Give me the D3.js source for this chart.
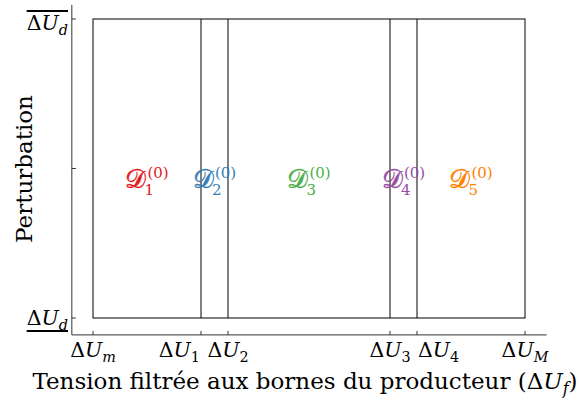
<!DOCTYPE html>
<html>
<head>
<meta charset="utf-8">
<script src="https://cdn.jsdelivr.net/npm/d3@7"></script>
<style>
  body { margin: 0; background: #fff; }
  text { font-family: "DejaVu Serif", "Liberation Serif", serif; }
</style>
</head>
<body>
<svg width="586" height="403"></svg>
<script>
// x positions of the boundaries (normalised, ΔU_m = 0, ΔU_M = 1)
var boundaries = [0, 0.25, 0.3125, 0.6875, 0.75, 1];
var xTickLabels = [["Δ", "U", "m"], ["Δ", "U", "1"], ["Δ", "U", "2"], ["Δ", "U", "3"], ["Δ", "U", "4"], ["Δ", "U", "M"]];
var xTickAnchors = ["middle", "end", "middle", "middle", "start", "middle"];
var yTicks = [-1, 0, 1];
var regionNames = ["1", "2", "3", "4", "5"];
var regionColors = ["#e41a1c", "#377eb8", "#4daf4a", "#984ea3", "#ff7f00"];

var svg = d3.select("svg");

var xScale = d3.scaleLinear().domain([0, 1]).range([93, 525]),
    yScale = d3.scaleLinear().domain([-1, 1]).range([318, 19]);

var axisX0 = xScale(-0.049), axisX1 = xScale(1.05),
    axisY0 = yScale(-1.113), axisY1 = yScale(1.095);

// axes lines
svg.append("line")
    .attr("x1", axisX0).attr("x2", axisX0)
    .attr("y1", axisY0).attr("y2", axisY1)
    .attr("stroke", "#333").attr("stroke-width", 1);
svg.append("line")
    .attr("x1", axisX0).attr("x2", axisX1)
    .attr("y1", axisY0).attr("y2", axisY0)
    .attr("stroke", "#333").attr("stroke-width", 1);

// ticks (pointing inward)
svg.selectAll(".xtick")
    .data(boundaries)
    .enter().append("line")
    .attr("x1", d => xScale(d)).attr("x2", d => xScale(d))
    .attr("y1", axisY0).attr("y2", axisY0 - 4)
    .attr("stroke", "#333");
svg.selectAll(".ytick")
    .data(yTicks)
    .enter().append("line")
    .attr("y1", d => yScale(d)).attr("y2", d => yScale(d))
    .attr("x1", axisX0).attr("x2", axisX0 + 4)
    .attr("stroke", "#333");

// outer frame
svg.append("rect")
    .attr("x", xScale(0)).attr("y", yScale(1))
    .attr("width", xScale(1) - xScale(0))
    .attr("height", yScale(-1) - yScale(1))
    .attr("fill", "none").attr("stroke", "#000").attr("stroke-width", 1);

// inner boundaries
svg.selectAll(".bound")
    .data(boundaries.slice(1, -1))
    .enter().append("line")
    .attr("x1", d => xScale(d)).attr("x2", d => xScale(d))
    .attr("y1", yScale(1)).attr("y2", yScale(-1))
    .attr("stroke", "#000");

// math label helper: Δ U_sub
function mathLabel(sel, parts, size) {
    sel.append("tspan").text(parts[0]);
    sel.append("tspan").attr("font-style", "italic").text(parts[1]);
    sel.append("tspan")
        .attr("font-style", isNaN(+parts[2]) ? "italic" : "normal")
        .attr("font-size", size * 0.7)
        .attr("dy", size * 0.25)
        .text(parts[2]);
}

// x tick labels
svg.selectAll(".xlab")
    .data(boundaries)
    .enter().append("text")
    .attr("x", (d, i) => xScale(d) + (xTickAnchors[i] === "end" ? -1 : xTickAnchors[i] === "start" ? 1 : 0))
    .attr("y", 357)
    .attr("text-anchor", (d, i) => xTickAnchors[i])
    .attr("font-size", 20.5)
    .each(function(d, i) { mathLabel(d3.select(this), xTickLabels[i], 20.5); });

// y tick labels (ΔU_d with over/underline)
[[1, 30, "over"], [-1, 325, "under"]].forEach(function(t) {
    var txt = svg.append("text")
        .attr("x", 68).attr("y", t[1])
        .attr("text-anchor", "end")
        .attr("font-size", 20.5);
    mathLabel(txt, ["Δ", "U", "d"], 20.5);
    var bb = txt.node().getBBox();
    var ly = t[2] === "over" ? 11 : 331;
    svg.append("line")
        .attr("x1", bb.x).attr("x2", bb.x + bb.width)
        .attr("y1", ly).attr("y2", ly)
        .attr("stroke", "#000").attr("stroke-width", 1.8);
});

// region labels D_i^(0)
regionNames.forEach(function(name, i) {
    var cx = (xScale(boundaries[i]) + xScale(boundaries[i + 1])) / 2;
    var g = svg.append("g").attr("fill", regionColors[i]);
    var dT = g.append("text").attr("x", 0).attr("y", 188)
        .attr("font-size", 26).attr("stroke", regionColors[i]).attr("stroke-width", 0.4)
        .text("𝒟");
    var wD = dT.node().getComputedTextLength();
    g.append("text").attr("x", wD + 1).attr("y", 178)
        .attr("font-size", 15).text("(0)");
    g.append("text").attr("x", wD - 2).attr("y", 195)
        .attr("font-size", 15).text(name);
    var bb = g.node().getBBox();
    g.attr("transform", "translate(" + (cx - bb.x - bb.width / 2) + ",0)");
});

// axis titles
svg.append("text")
    .attr("x", 305).attr("y", 389)
    .attr("text-anchor", "middle")
    .attr("font-size", 23)
    .each(function() {
        var s = d3.select(this);
        s.append("tspan").text("Tension filtrée aux bornes du producteur (Δ");
        s.append("tspan").attr("font-style", "italic").text("U");
        s.append("tspan").attr("font-style", "italic").attr("font-size", 16).attr("dy", 5).text("f");
        s.append("tspan").attr("dy", -5).text(")");
    });

svg.append("text")
    .attr("transform", "translate(32,169) rotate(-90)")
    .attr("text-anchor", "middle")
    .attr("font-size", 23)
    .text("Perturbation");
</script>
</body>
</html>
